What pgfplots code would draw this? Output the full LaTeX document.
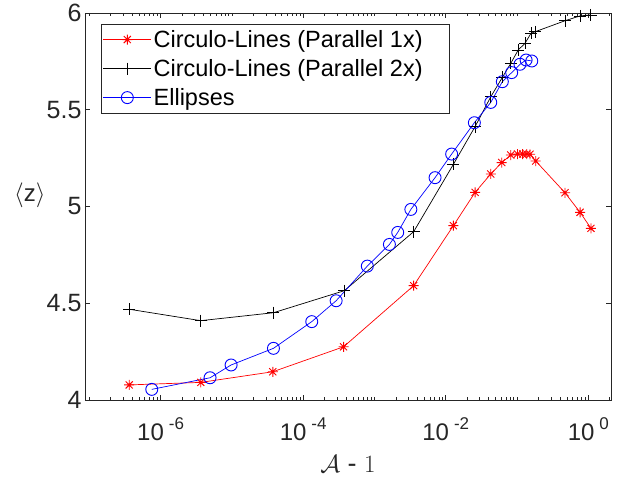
\documentclass[border=0pt]{standalone}
\usepackage{fontspec}
\setmainfont{Liberation Sans}
\usepackage{pgfplots}
\pgfplotsset{compat=1.18}
\definecolor{axgray}{rgb}{0.15,0.15,0.15}
\newcommand\tenexp[1]{10\hspace{5pt}\raisebox{11.7pt}{\fontsize{17}{17}\selectfont #1}}
\pgfdeclareplotmark{mstar}{%
 \pgfpathmoveto{\pgfqpoint{-\pgfplotmarksize}{0pt}}\pgfpathlineto{\pgfqpoint{\pgfplotmarksize}{0pt}}%
 \pgfpathmoveto{\pgfqpoint{0pt}{-\pgfplotmarksize}}\pgfpathlineto{\pgfqpoint{0pt}{\pgfplotmarksize}}%
 \pgfpathmoveto{\pgfqpoint{-.707\pgfplotmarksize}{-.707\pgfplotmarksize}}\pgfpathlineto{\pgfqpoint{.707\pgfplotmarksize}{.707\pgfplotmarksize}}%
 \pgfpathmoveto{\pgfqpoint{-.707\pgfplotmarksize}{.707\pgfplotmarksize}}\pgfpathlineto{\pgfqpoint{.707\pgfplotmarksize}{-.707\pgfplotmarksize}}%
 \pgfusepathqstroke}
\pgfplotstableread{
x y
3.63e-7 4.078
3.66e-6 4.091
3.75e-5 4.146
3.69e-4 4.275
3.55e-3 4.591
1.28e-2 4.901
2.58e-2 5.073
4.28e-2 5.168
6.10e-2 5.227
8.17e-2 5.266
0.1014 5.271
0.120 5.271
0.137 5.271
0.152 5.270
0.183 5.235
0.471 5.071
0.766 4.970
1.09 4.887
}\redtab
\pgfplotstableread{
x y
3.63e-7 4.469
3.66e-6 4.410
3.83e-5 4.451
3.78e-4 4.565
3.55e-3 4.870
1.28e-2 5.218
2.58e-2 5.413
4.28e-2 5.567
6.22e-2 5.667
8.17e-2 5.740
0.104 5.809
0.129 5.843
0.157 5.895
0.179 5.903
0.471 5.960
0.766 5.985
1.08 5.990
}\blacktab
\pgfplotstableread{
x y
7.52e-7 4.055
4.94e-6 4.115
9.75e-6 4.181
3.83e-5 4.267
1.32e-4 4.405
2.90e-4 4.513
7.94e-4 4.692
1.62e-3 4.804
2.12e-3 4.866
3.24e-3 4.985
7.08e-3 5.149
1.21e-2 5.271
2.52e-2 5.433
4.28e-2 5.538
6.22e-2 5.645
8.41e-2 5.692
0.110 5.735
0.134 5.757
0.161 5.752
}\bluetab
\begin{document}
\begin{tikzpicture}
\useasboundingbox (-85pt,-77pt) rectangle (536pt,400pt);
\begin{axis}[
 at={(0pt,0pt)}, anchor=south west,
 scale only axis, width=526pt, height=387pt,
 xmode=log, xmin=8.7e-8, xmax=2.08, ymin=4, ymax=6,
 ytick={4,4.5,5,5.5,6},
 xtick={1e-6,1e-4,1e-2,1},
 xticklabels={\tenexp{-6},\tenexp{-4},\tenexp{-2},\tenexp{0}},
 minor xtick={1e-7,2e-7,3e-7,4e-7,5e-7,6e-7,7e-7,8e-7,9e-7,
  2e-6,3e-6,4e-6,5e-6,6e-6,7e-6,8e-6,9e-6,
  1e-5,2e-5,3e-5,4e-5,5e-5,6e-5,7e-5,8e-5,9e-5,
  2e-4,3e-4,4e-4,5e-4,6e-4,7e-4,8e-4,9e-4,
  1e-3,2e-3,3e-3,4e-3,5e-3,6e-3,7e-3,8e-3,9e-3,
  2e-2,3e-2,4e-2,5e-2,6e-2,7e-2,8e-2,9e-2,
  1e-1,2e-1,3e-1,4e-1,5e-1,6e-1,7e-1,8e-1,9e-1,2},
 axis line style={axgray, line width=0.6pt},
 every tick/.style={axgray, line width=0.6pt},
 major tick length=5pt, minor tick length=3pt,
 tick align=inside,
 yticklabel style={font=\fontsize{25}{29}\selectfont, text=axgray},
 xticklabel style={font=\fontsize{24}{28}\selectfont, text=axgray, anchor=base, yshift=-40.7pt},
 /pgf/number format/assume math mode=true,
 xlabel={$\mathcal{A}$ - $1$},
 ylabel={$\langle$z$\rangle$},
 xlabel style={at={(axis description cs:0.5,-0.166)}, anchor=center, inner sep=0pt, font=\fontsize{27}{30}\selectfont, text=axgray},
 ylabel style={at={(axis description cs:-0.105,0.53)}, anchor=center, rotate=-90, font=\fontsize{24}{28}\selectfont, text=axgray},
 legend style={at={(axis description cs:0.0298,0.9716)}, anchor=north west,
   draw=axgray, line width=0.6pt, font=\fontsize{23.5}{28}\selectfont,
   inner xsep=2pt, inner ysep=4pt, row sep=6.5pt},
 legend cell align=left,
 legend image code/.code={\draw[mark repeat=2,mark phase=2] plot coordinates {(0pt,0pt)(24pt,0pt)(48pt,0pt)};},
]
\addplot[red, line width=0.7pt, mark=mstar, mark size=5pt, mark options={line width=0.9pt}] table[x=x,y=y]{\redtab};
\addlegendentry{\makebox[292pt][l]{Circulo-Lines (Parallel 1x)}}
\addplot[black, line width=0.7pt, mark=+, mark size=6pt, mark options={line width=0.8pt}] table[x=x,y=y]{\blacktab};
\addlegendentry{Circulo-Lines (Parallel 2x)}
\addplot[blue, line width=0.7pt, mark=o, mark size=6pt, mark options={line width=0.9pt}] table[x=x,y=y]{\bluetab};
\addlegendentry{Ellipses}
\end{axis}
\end{tikzpicture}
\end{document}
